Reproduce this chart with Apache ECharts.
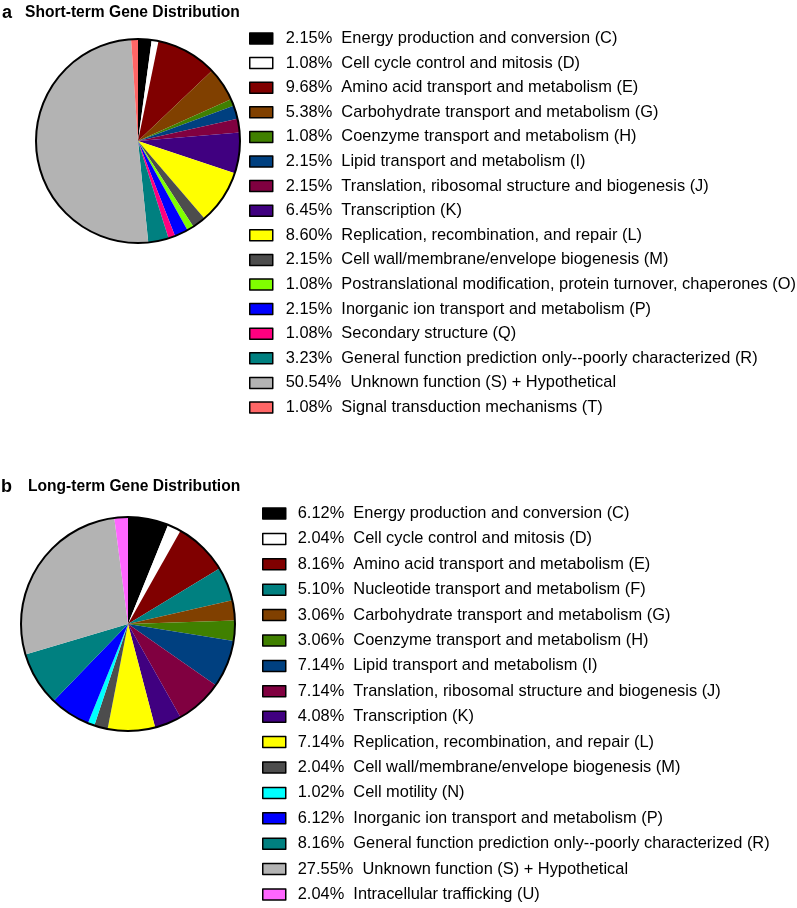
<!DOCTYPE html>
<html>
<head>
<meta charset="utf-8">
<script src="https://cdn.jsdelivr.net/npm/echarts@6/dist/echarts.min.js"></script>
<style>
html,body{margin:0;padding:0;background:#fff;}
#chart{width:797px;height:908px;}
</style>
</head>
<body>
<div id="chart"></div>
<script>
// ---- Data ----
const shortCategories = [
  'Energy production and conversion (C)',
  'Cell cycle control and mitosis (D)',
  'Amino acid transport and metabolism (E)',
  'Carbohydrate transport and metabolism (G)',
  'Coenzyme transport and metabolism (H)',
  'Lipid transport and metabolism (I)',
  'Translation, ribosomal structure and biogenesis (J)',
  'Transcription (K)',
  'Replication, recombination, and repair (L)',
  'Cell wall/membrane/envelope biogenesis (M)',
  'Postranslational modification, protein turnover, chaperones (O)',
  'Inorganic ion transport and metabolism (P)',
  'Secondary structure (Q)',
  'General function prediction only--poorly characterized (R)',
  'Unknown function (S) + Hypothetical',
  'Signal transduction mechanisms (T)'
];
const shortValues = [2.15, 1.08, 9.68, 5.38, 1.08, 2.15, 2.15, 6.45, 8.60, 2.15, 1.08, 2.15, 1.08, 3.23, 50.54, 1.08];
const shortColors = ['#000000', '#ffffff', '#800000', '#804000', '#408000', '#004080', '#800040', '#400080',
  '#ffff00', '#4d4d4d', '#80ff00', '#0000ff', '#ff0080', '#008080', '#b3b3b3', '#ff6666'];

const longCategories = [
  'Energy production and conversion (C)',
  'Cell cycle control and mitosis (D)',
  'Amino acid transport and metabolism (E)',
  'Nucleotide transport and metabolism (F)',
  'Carbohydrate transport and metabolism (G)',
  'Coenzyme transport and metabolism (H)',
  'Lipid transport and metabolism (I)',
  'Translation, ribosomal structure and biogenesis (J)',
  'Transcription (K)',
  'Replication, recombination, and repair (L)',
  'Cell wall/membrane/envelope biogenesis (M)',
  'Cell motility (N)',
  'Inorganic ion transport and metabolism (P)',
  'General function prediction only--poorly characterized (R)',
  'Unknown function (S) + Hypothetical',
  'Intracellular trafficking (U)'
];
const longValues = [6.12, 2.04, 8.16, 5.10, 3.06, 3.06, 7.14, 7.14, 4.08, 7.14, 2.04, 1.02, 6.12, 8.16, 27.55, 2.04];
const longColors = ['#000000', '#ffffff', '#800000', '#008080', '#804000', '#408000', '#004080', '#800040',
  '#400080', '#ffff00', '#4d4d4d', '#00ffff', '#0000ff', '#008080', '#b3b3b3', '#ff66ff'];

// ---- Build ----
const FONT = '"Liberation Sans", Arial, Helvetica, sans-serif';
function buildData(cats, vals, cols) {
  return cats.map((c, i) => ({
    name: vals[i].toFixed(2) + '%  ' + c,
    value: vals[i],
    itemStyle: { color: cols[i] }
  }));
}
const shortData = buildData(shortCategories, shortValues, shortColors);
const longData = buildData(longCategories, longValues, longColors);

function pieSeries(data, center, radius) {
  return {
    type: 'pie',
    center: center,
    radius: radius,
    startAngle: 90,
    clockwise: true,
    silent: true,
    animation: false,
    label: { show: false },
    labelLine: { show: false },
    emphasis: { disabled: true },
    itemStyle: { borderWidth: 0 },
    data: data
  };
}
function outlineSeries(center, radius) {
  return {
    type: 'pie',
    center: center,
    radius: radius,
    silent: true,
    animation: false,
    label: { show: false },
    labelLine: { show: false },
    emphasis: { disabled: true },
    itemStyle: { color: 'rgba(0,0,0,0)', borderColor: '#000', borderWidth: 2 },
    data: [{ name: '__outline', value: 1 }],
    z: 3
  };
}
function legendFor(data, left, top, gap, textPad) {
  return {
    orient: 'vertical',
    left: left,
    top: top,
    icon: 'rect',
    itemWidth: 23,
    itemHeight: 11,
    itemGap: gap,
    selectedMode: false,
    padding: 0,
    data: data.map(d => d.name),
    itemStyle: { borderColor: '#000', borderWidth: 1.5 },
    textStyle: { fontFamily: FONT, fontSize: 16.4, color: '#000', lineHeight: 18, padding: [0, 0, 0, textPad] }
  };
}

const option = {
  backgroundColor: '#fff',
  animation: false,
  title: [
    {
      text: '{l|a}{t|Short-term Gene Distribution}',
      left: 2, top: 3, padding: 0,
      textStyle: {
        rich: {
          l: { fontFamily: FONT, fontSize: 18, fontWeight: 'bold', color: '#000', width: 23, lineHeight: 20 },
          t: { fontFamily: FONT, fontSize: 15.6, fontWeight: 'bold', color: '#000', lineHeight: 20 }
        }
      }
    },
    {
      text: '{l|b}{t|Long-term Gene Distribution}',
      left: 1, top: 477, padding: 0,
      textStyle: {
        rich: {
          l: { fontFamily: FONT, fontSize: 18, fontWeight: 'bold', color: '#000', width: 27, lineHeight: 20 },
          t: { fontFamily: FONT, fontSize: 15.6, fontWeight: 'bold', color: '#000', lineHeight: 20 }
        }
      }
    }
  ],
  legend: [
    legendFor(shortData, 249, 29.5, 6.6, 8),
    legendFor(longData, 262, 504.5, 7.4, 7)
  ],
  series: [
    pieSeries(shortData, [138, 141], 102),
    outlineSeries([138, 141], 102),
    pieSeries(longData, [128, 624], 107),
    outlineSeries([128, 624], 107)
  ]
};

const chart = echarts.init(document.getElementById('chart'), null, { renderer: 'canvas' });
chart.setOption(option);
</script>
</body>
</html>
